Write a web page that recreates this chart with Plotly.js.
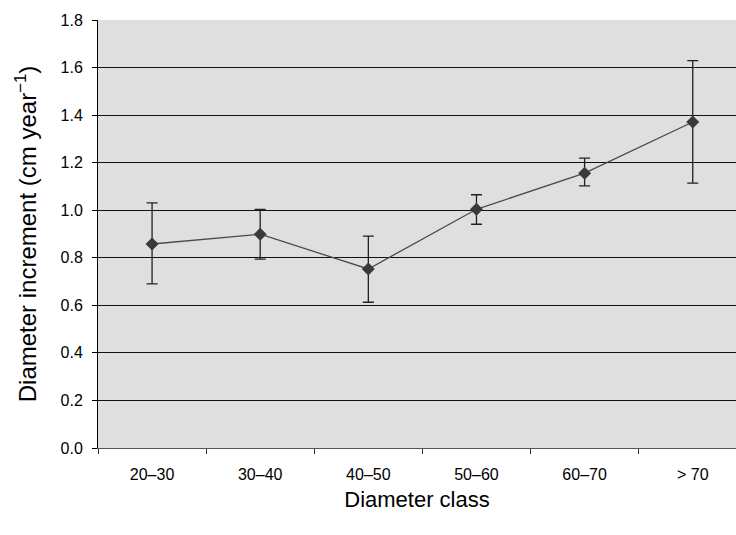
<!DOCTYPE html>
<html>
<head>
<meta charset="utf-8">
<script src="https://cdn.plot.ly/plotly-3.0.1.min.js"></script>
<style>html,body{margin:0;padding:0;background:#fff;}#chart{width:736px;height:535px;}</style>
</head>
<body>
<div id="chart"></div>
<script>
const categories = ["20–30", "30–40", "40–50", "50–60", "60–70", "> 70"];
const meanIncrement = [0.858, 0.899, 0.753, 1.004, 1.156, 1.371];
const upperBound = [1.031, 1.003, 0.891, 1.065, 1.219, 1.629];
const lowerBound = [0.690, 0.794, 0.613, 0.941, 1.102, 1.114];

const errPlus = meanIncrement.map((v, i) => upperBound[i] - v);
const errMinus = meanIncrement.map((v, i) => v - lowerBound[i]);

const trace = {
  type: "scatter",
  mode: "lines+markers",
  x: categories,
  y: meanIncrement,
  line: {color: "#4a4a4a", width: 1.3},
  marker: {symbol: "diamond", size: 10, color: "#3a3a3a"},
  error_y: {
    type: "data",
    symmetric: false,
    array: errPlus,
    arrayminus: errMinus,
    color: "#222222",
    thickness: 1.3,
    width: 5.5
  },
  showlegend: false,
  hoverinfo: "skip"
};

const layout = {
  width: 736,
  height: 535,
  margin: {l: 98, r: 0, t: 20, b: 87, pad: 0},
  paper_bgcolor: "#ffffff",
  plot_bgcolor: "#dfdfdf",
  font: {family: "Liberation Sans, Arial, sans-serif", color: "#000"},
  xaxis: {
    type: "category",
    range: [-0.5, 5.4],
    showgrid: false,
    zeroline: false,
    showline: true,
    linecolor: "#555555",
    linewidth: 1.3,
    ticks: "outside",
    tickson: "boundaries",
    ticklen: 5,
    tickcolor: "#333",
    tickwidth: 1,
    tickfont: {size: 16},
    ticklabelstandoff: 11,
    title: {text: "Diameter class", font: {size: 22}, standoff: 10}
  },
  yaxis: {
    range: [0, 1.8],
    dtick: 0.2,
    tick0: 0,
    tickformat: ".1f",
    showgrid: true,
    gridcolor: "#111111",
    gridwidth: 1,
    zeroline: false,
    showline: true,
    linecolor: "#000",
    linewidth: 1,
    ticks: "outside",
    ticklen: 5,
    tickcolor: "#000",
    tickfont: {size: 16},
    ticklabelstandoff: 6,
    title: {text: "Diameter increment (cm year<sup>−1</sup>)", font: {size: 24}, standoff: 17}
  }
};

Plotly.newPlot("chart", [trace], layout, {displayModeBar: false, staticPlot: true});
</script>
</body>
</html>
